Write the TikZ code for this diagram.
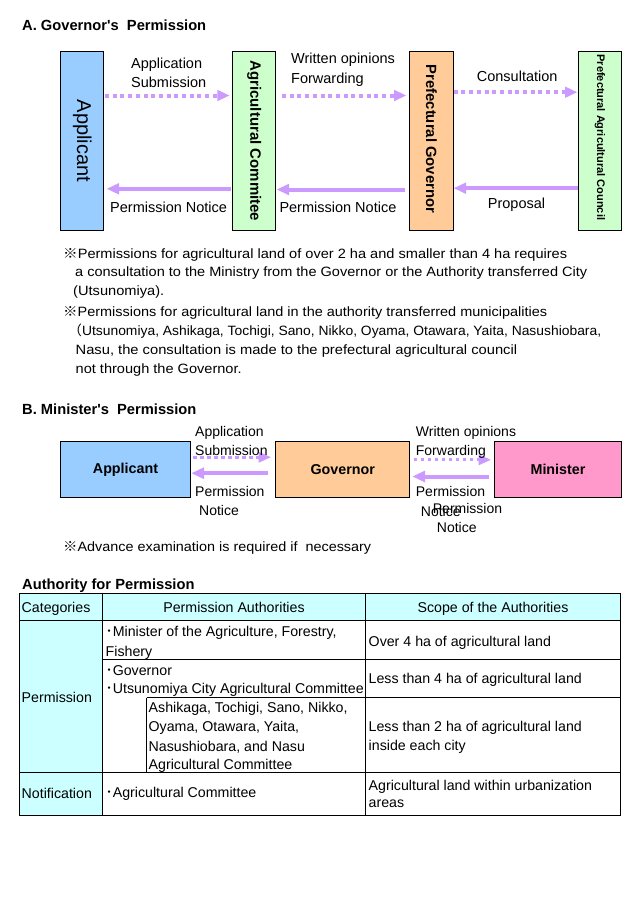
\documentclass[tikz,border=0pt]{standalone}
\usepackage{fontspec}
\setmainfont{Liberation Sans}
\newfontfamily\jp{Noto Sans CJK JP}
\usepackage{graphicx}
\usetikzlibrary{arrows.meta}
\definecolor{cblue}{HTML}{99CCFF}
\definecolor{cgreen}{HTML}{CCFFCC}
\definecolor{corange}{HTML}{FFCC99}
\definecolor{cpink}{HTML}{FF99CC}
\definecolor{clilac}{HTML}{CC99FF}
\definecolor{ccyan}{HTML}{CCFFFF}
\newsavebox\fitbox
\newcommand\fitw[2]{\sbox\fitbox{#2}\pgfmathsetmacro\fitfac{#1/\the\wd\fitbox}\scalebox{\fitfac}[1]{\usebox\fitbox}}
\begin{document}
\begin{tikzpicture}[x=1pt,y=-1pt,
  box/.style={draw=black,line width=1pt,inner sep=0pt,anchor=north west},
  lbl/.style={inner sep=0pt,anchor=base west,font=\fontsize{14.5}{17}\selectfont},
  lblb/.style={inner sep=0pt,anchor=base west,font=\fontsize{14}{17}\selectfont},
  tbl/.style={inner sep=0pt,anchor=base west,font=\fontsize{14.2}{17}\selectfont},
  note/.style={inner sep=0pt,anchor=base west,font=\fontsize{13.5}{16}\selectfont},
  ttl/.style={inner sep=0pt,anchor=base west,font=\bfseries\fontsize{14.7}{17}\selectfont},
  vtxt/.style={rotate=-90,inner sep=0pt},
  dotarr/.style={draw=clilac,line width=4pt,dash pattern=on 4pt off 3.7pt,-{Triangle[length=12pt,width=11.5pt,line width=0pt]}},
  solarr/.style={draw=clilac,line width=4pt,-{Triangle[length=12pt,width=11.5pt,line width=0pt]}},
  dotarrB/.style={draw=clilac,line width=3.3pt,dash pattern=on 3.6pt off 3.4pt,-{Triangle[length=12pt,width=11pt,line width=0pt]}},
  solarrB/.style={draw=clilac,line width=4pt,-{Triangle[length=12.5pt,width=12pt,line width=0pt]}},
  tline/.style={draw=black,line width=0.9pt}
]
\useasboundingbox[fill=white] (0,0) rectangle (640,900);

% ---------- A ----------
\node[ttl] (ttlA) at (22,30.5) {A. Governor\textquotesingle s\ \ Permission};

\node[box,fill=cblue,minimum width=43pt,minimum height=179.3pt] (app) at (60.3,50.7) {};
\node[box,fill=cgreen,minimum width=43pt,minimum height=179.3pt] (ac) at (232.3,50.7) {};
\node[box,fill=corange,minimum width=43.4pt,minimum height=179.3pt] (gov) at (409.3,50.7) {};
\node[box,fill=cgreen,minimum width=42.4pt,minimum height=179.3pt] (cou) at (578.3,50.7) {};

\node[vtxt,font=\fontsize{20}{24}\selectfont] (appT) at (app.center) {Applicant};
\node[vtxt,font=\bfseries\fontsize{15}{18}\selectfont] (acT) at (ac.center) {Agricultural Commitee};
\node[vtxt,font=\bfseries\fontsize{14.8}{18}\selectfont] (govT) at ([yshift=2pt]gov.center) {Prefectural Governor};
\node[vtxt,font=\bfseries\fontsize{11}{13}\selectfont] (couT) at ([yshift=3.5pt]cou.center) {Prefectural Agricultural Council};

\draw[dotarr,shorten <=0.7pt,shorten >=3pt] ([yshift=45.35pt]app.east) -- ([yshift=45.35pt]ac.west);
\draw[dotarr,shorten <=5.7pt,shorten >=3.3pt] ([yshift=45.35pt]ac.east) -- ([yshift=45.35pt]gov.west);
\draw[dotarr,shorten <=0pt,shorten >=1.3pt] ([yshift=48.65pt]gov.east) -- ([yshift=48.65pt]cou.west);
\draw[solarr,shorten <=1.3pt,shorten >=2.7pt] ([yshift=-47.95pt]ac.west) -- ([yshift=-47.95pt]app.east);
\draw[solarr,shorten <=4.3pt,shorten >=0.7pt] ([yshift=-48.65pt]gov.west) -- ([yshift=-48.65pt]ac.east);
\draw[solarr,shorten <=0.3pt,shorten >=0.3pt] ([yshift=-47.35pt]cou.west) -- ([yshift=-47.35pt]gov.east);

\node[lbl] (la1) at (131,68.7) {Application};
\node[lbl] (la2) at (131,87.7) {Submission};
\node[lbl] (lb1) at (291,63.7) {Written opinions};
\node[lbl] (lb2) at (291,83) {Forwarding};
\node[lbl] (lc1) at (476.7,81) {Consultation};
\node[lbl] (ld1) at (110,212.5) {Permission Notice};
\node[lbl] (ld2) at (279.3,212.5) {Permission Notice};
\node[lbl] (ld3) at (487.7,208) {Proposal};

% notes
\node[note] (n1) at (63,258.3) {\fitw{504}{{\jp ※}Permissions for agricultural land of over 2 ha and smaller than 4 ha requires}};
\node[note] (n2) at (75,276.7) {\fitw{512}{a consultation to the Ministry from the Governor or the Authority transferred City}};
\node[note] (n3) at (73,295) {\fitw{91}{(Utsunomiya).}};
\node[note] (n4) at (63,316) {\fitw{484}{{\jp ※}Permissions for agricultural land in the authority transferred municipalities}};
\node[note] (n5) at (68,335) {\fitw{533}{{\jp （}Utsunomiya, Ashikaga, Tochigi, Sano, Nikko, Oyama, Otawara, Yaita, Nasushiobara,}};
\node[note] (n6) at (75.5,354) {\fitw{441.5}{Nasu, the consultation is made to the prefectural agricultural council}};
\node[note] (n7) at (75.5,373) {\fitw{166}{not through the Governor.}};

% ---------- B ----------
\node[ttl] (ttlB) at (22,414.5) {B. Minister\textquotesingle s\ \ Permission};

\node[box,fill=cblue,minimum width=129.4pt,minimum height=56.6pt,font=\bfseries\fontsize{14.3}{17}\selectfont] (appB) at (60.3,440.7) {Applicant};
\node[box,fill=corange,minimum width=134pt,minimum height=56.6pt,font=\bfseries\fontsize{14.3}{17}\selectfont] (govB) at (275.3,440.7) {Governor};
\node[box,fill=cpink,minimum width=126.4pt,minimum height=56.6pt,font=\bfseries\fontsize{14.3}{17}\selectfont] (minB) at (494.3,440.7) {Minister};

\draw[dotarrB,shorten <=2.6pt,shorten >=4.6pt] ([yshift=12.3pt]appB.east) -- ([yshift=12.3pt]govB.west);
\draw[solarrB,shorten <=7pt,shorten >=1pt] ([yshift=-3.7pt]govB.west) -- ([yshift=-3.7pt]appB.east);
\draw[dotarrB,shorten <=3.4pt,shorten >=3.6pt] ([yshift=9.7pt]govB.east) -- ([yshift=9.7pt]minB.west);
\draw[solarrB,shorten <=5.3pt,shorten >=2.4pt] ([yshift=-7pt]minB.west) -- ([yshift=-7pt]govB.east);

\node[lblb] (lbA1) at (195,436) {Application};
\node[lblb] (lbA2) at (195,455) {Submission};
\node[lblb] (lbB1) at (195,496) {Permission};
\node[lblb] (lbB2) at (199,515.3) {Notice};
\node[lblb] (lbC1) at (415.7,436) {Written opinions};
\node[lblb] (lbC2) at (415.7,455) {Forwarding};
\node[lblb] (lbD1) at (415.7,496.7) {Permission};
\node[lblb] (lbD2) at (420.7,516) {Notice};
\node[lblb] (lbE1) at (432.7,513.3) {Permission};
\node[lblb] (lbE2) at (436.7,532.7) {Notice};

\node[note] (n8) at (63,551.7) {\fitw{308}{{\jp ※}Advance examination is required if\ \ necessary}};

% ---------- Table ----------
\node[ttl] (ttlT) at (22,589.8) {Authority for Permission};

\fill[ccyan] (19,593.3) rectangle (620.7,620.7);
\fill[ccyan] (19,620.7) rectangle (102.7,815);
\draw[tline] (19,593.3) rectangle (620.7,815);
\draw[tline] (102.7,593.3) -- (102.7,815);
\draw[tline] (365,593.3) -- (365,815);
\draw[tline] (19,620.7) -- (620.7,620.7);
\draw[tline] (102.7,659.3) -- (620.7,659.3);
\draw[tline] (146.7,697.7) -- (620.7,697.7);
\draw[tline] (146.7,697.7) -- (146.7,772.7);
\draw[tline] (19,772.7) -- (620.7,772.7);

\node[tbl] (h1) at (21.5,612) {Categories};
\node[tbl,anchor=base] (h2) at (234,612) {Permission Authorities};
\node[tbl,anchor=base] (h3) at (493,612) {Scope of the Authorities};

\node[tbl] (c1) at (21.5,702) {Permission};
\node[tbl] (c2) at (21.5,798.5) {Notification};

\node[tbl] (p1) at (105.5,636) {{\jp ･}Minister of the Agriculture, Forestry,};
\node[tbl] (p2) at (105.5,656) {Fishery};
\node[tbl] (p3) at (105.5,675) {{\jp ･}Governor};
\node[tbl] (p4) at (105.5,693.5) {{\jp ･}Utsunomiya City Agricultural Committee};
\node[tbl] (p5) at (148.5,712) {Ashikaga, Tochigi, Sano, Nikko,};
\node[tbl] (p6) at (148.5,731) {Oyama, Otawara, Yaita,};
\node[tbl] (p7) at (148.5,751) {Nasushiobara, and Nasu};
\node[tbl] (p8) at (148.5,769.5) {Agricultural Committee};
\node[tbl] (p9) at (105.5,797) {{\jp ･}Agricultural Committee};

\node[tbl] (s1) at (368.5,646) {Over 4 ha of agricultural land};
\node[tbl] (s2) at (368.5,683.5) {Less than 4 ha of agricultural land};
\node[tbl] (s3) at (368.5,731) {Less than 2 ha of agricultural land};
\node[tbl] (s4) at (368.5,750) {inside each city};
\node[tbl] (s5) at (368.5,790.5) {Agricultural land within urbanization};
\node[tbl] (s6) at (368.5,807) {areas};
\end{tikzpicture}
\end{document}
